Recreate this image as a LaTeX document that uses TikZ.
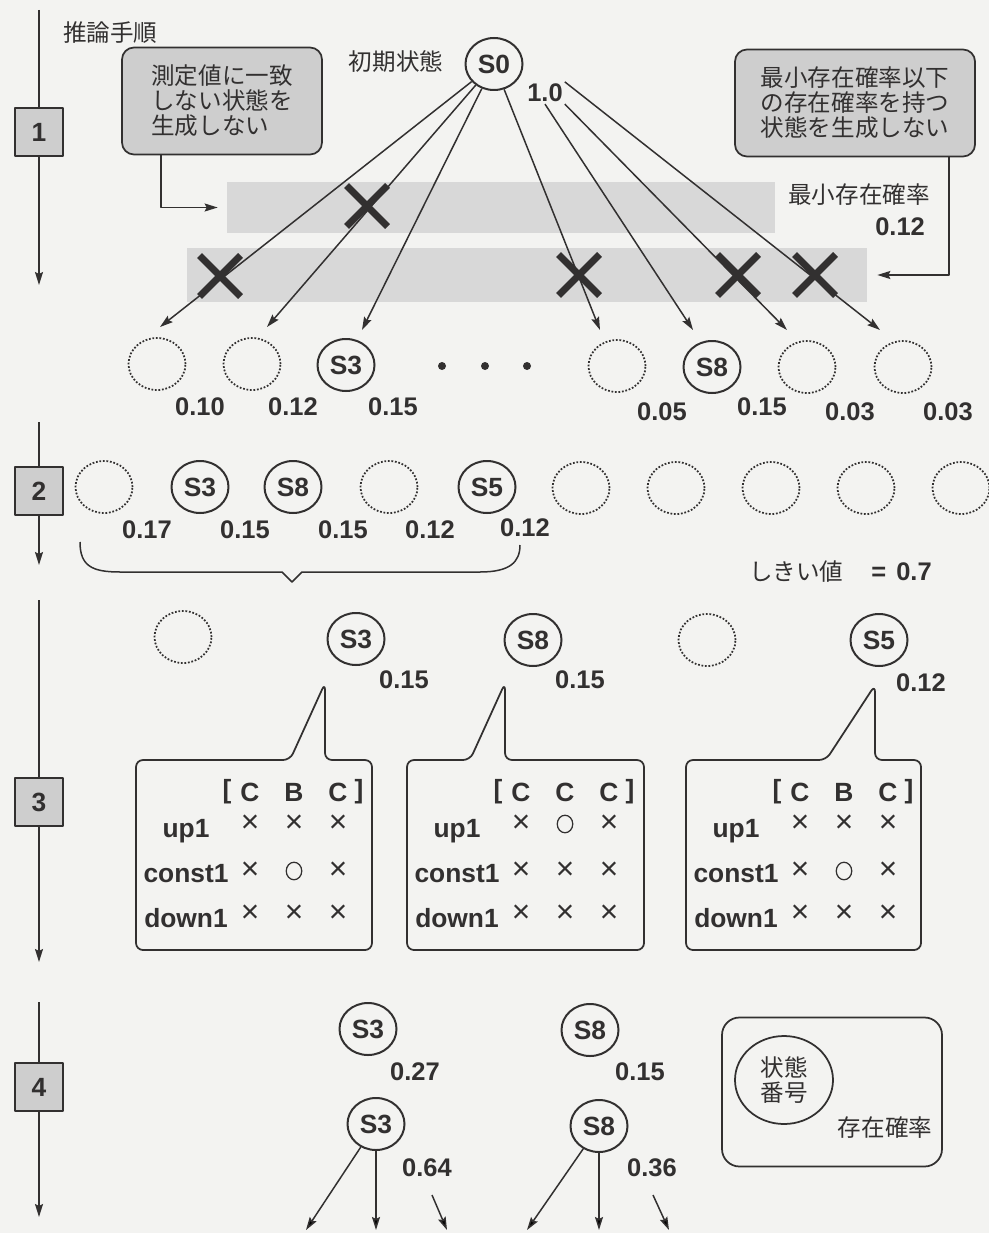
\documentclass[tikz,border=0pt]{standalone}
\usepackage{fontspec}
\setmainfont{Liberation Sans}
\newfontfamily\jp{Noto Sans CJK JP}
\usetikzlibrary{arrows.meta,shapes.geometric,shapes.misc,fit}

\definecolor{ink}{RGB}{50,48,48}
\definecolor{paper}{RGB}{243,243,241}
\definecolor{shade}{RGB}{206,206,206}
\definecolor{bandgray}{RGB}{216,216,216}

\tikzset{
  arr/.style={draw=ink, line width=0.3mm, -{Stealth[length=2.6mm,width=1.6mm,inset=0.4mm]}},
  axis/.style={draw=ink, line width=0.3mm},
  state/.style={ellipse, draw=ink, line width=0.4mm, minimum width=11.4mm, minimum height=10.4mm,
    inner sep=0pt, font=\fontsize{15}{15}\selectfont\bfseries, text=ink},
  gone/.style={ellipse, draw=ink, densely dotted, line width=0.35mm, minimum width=11.4mm,
    minimum height=10.4mm, inner sep=0pt},
  prob/.style={font=\fontsize{14.5}{15}\selectfont\bfseries, text=ink, inner sep=1pt},
  jtext/.style={font=\jp\fontsize{13.4}{14.2}\selectfont, text=ink},
  stepbox/.style={draw=ink, fill=shade, line width=0.3mm, minimum size=9.6mm, inner sep=0pt,
    font=\fontsize{15}{15}\selectfont\bfseries, text=ink},
  note/.style={jtext, draw=ink, fill=shade, rounded corners=2.4mm, line width=0.35mm, align=left},
  band/.style={fill=bandgray, inner sep=0pt},
  cut/.style={cross out, draw=ink, line width=1.4mm, minimum size=6.8mm, inner sep=0pt},
  cell/.style={font=\fontsize{15}{15}\selectfont\bfseries, text=ink, inner sep=1pt},
  tick/.style={font=\fontsize{18}{18}\selectfont, text=ink, inner sep=0pt},
  balloon/.style={draw=ink, line width=0.35mm, rounded corners=1.4mm},
}

\newcommand{\okmark}{\tikz\draw[ink, line width=0.25mm] (0,0) ellipse (1.55mm and 1.75mm);}
\newcommand{\nomark}{×}

% one table of rule matches: name, left edge, header, up1, const1, down1
\newcommand{\ruletab}[6]{%
  \node[cell] (#1-lb) at (#2+91,792) {[};
  \foreach \h [count=\i] in {#3} \node[cell] (#1-h\i) at (#2+70+44*\i,792) {\h};
  \node[cell] (#1-rb) at (#2+223,792) {]};
  \node[cell] (#1-up) at (#2+50,831) {up1};
  \node[cell] (#1-co) at (#2+50,874) {const1};
  \node[cell] (#1-dn) at (#2+50,918) {down1};
  \foreach \m [count=\i] in {#4} \node[tick] (#1-u\i) at (#2+70+44*\i,824) {\m};
  \foreach \m [count=\i] in {#5} \node[tick] (#1-c\i) at (#2+70+44*\i,871) {\m};
  \foreach \m [count=\i] in {#6} \node[tick] (#1-d\i) at (#2+70+44*\i,914) {\m};
}

\begin{document}
\begin{tikzpicture}[x=0.2mm, y=-0.2mm, line join=round]
  \fill[paper] (0,0) rectangle (989,1233);
  \useasboundingbox (0,0) rectangle (989,1233);

  % steps on the left
  \node[jtext, anchor=west] (title) at (57,33) {推論手順};
  \coordinate (ax1) at (39,10);   \coordinate (ax1e) at (39,285);
  \coordinate (ax2) at (39,422);  \coordinate (ax2e) at (39,565);
  \coordinate (ax3) at (39,600);  \coordinate (ax3e) at (39,962);
  \coordinate (ax4) at (39,1002); \coordinate (ax4e) at (39,1217);
  \node[stepbox] (n1) at (39,132) {1};
  \node[stepbox] (n2) at (39,491) {2};
  \node[stepbox] (n3) at (39,802) {3};
  \node[stepbox] (n4) at (39,1087) {4};
  \draw[axis] (ax1) -- (n1);  \draw[arr] (n1) -- (ax1e);
  \draw[axis] (ax2) -- (n2);  \draw[arr] (n2) -- (ax2e);
  \draw[axis] (ax3) -- (n3);  \draw[arr] (n3) -- (ax3e);
  \draw[axis] (ax4) -- (n4);  \draw[arr] (n4) -- (ax4e);

  % step 1
  \node[band, fit={(227,182) (775,233)}] (b1) {};
  \node[band, fit={(187,248) (867,302)}] (b2) {};
  \node[note, minimum width=40mm, minimum height=21.4mm] (nl) at (222,101) {測定値に一致\\しない状態を\\生成しない};
  \node[note, minimum width=48mm, minimum height=21.4mm] (nr) at (855,103) {最小存在確率以下\\の存在確率を持つ\\状態を生成しない};
  \draw[arr] ([xshift=8mm]nl.south west) |- ([xshift=-1.8mm]b1.west);
  \draw[arr] ([xshift=-5.4mm]nr.south east) |- ([xshift=2mm]b2.east);
  \node[jtext] (minp) at (859,195) {最小存在確率};
  \node[prob, anchor=east] (minv) at (927,227) {0.12};

  \node[jtext] (init) at (396,62) {初期状態};
  \node[state] (s0) at (494,64) {S0};
  \node[prob] (p0) at (545,93) {1.0};

  \coordinate (t1) at (160,327); \coordinate (t2) at (267,327);
  \coordinate (t3) at (362,330); \coordinate (t4) at (600,330);
  \coordinate (t5) at (693,330); \coordinate (t6) at (787,330);
  \coordinate (t7) at (880,330);
  \draw[arr] (s0) -- (t1);
  \draw[arr] (s0) -- (t2);
  \draw[arr] (s0) -- (t3);
  \draw[arr] (s0) -- (t4);
  \draw[arr] (p0.south) -- (t5);
  \draw[arr] (p0.south east) -- (t6);
  \draw[arr] (p0.north east) -- (t7);

  \node[cut] (x1) at (367,206) {};
  \node[cut] (x2) at (220,276) {};
  \node[cut] (x3) at (579,275) {};
  \node[cut] (x4) at (738,275) {};
  \node[cut] (x5) at (815,275) {};

  \node[gone]  (r1a) at (157,364) {};
  \node[gone]  (r1b) at (252,364) {};
  \node[state] (r1c) at (346,365) {S3};
  \node[gone]  (r1d) at (617,366) {};
  \node[state] (r1e) at (712,367) {S8};
  \node[gone]  (r1f) at (807,367) {};
  \node[gone]  (r1g) at (903,367) {};
  \foreach \x in {442,485,527} \fill[ink] (\x,366) circle (0.8mm);
  \node[prob] (q1a) at (200,407) {0.10};
  \node[prob] (q1b) at (293,407) {0.12};
  \node[prob] (q1c) at (393,407) {0.15};
  \node[prob] (q1d) at (662,412) {0.05};
  \node[prob] (q1e) at (762,407) {0.15};
  \node[prob] (q1f) at (850,412) {0.03};
  \node[prob] (q1g) at (948,412) {0.03};

  % step 2
  \node[gone]  (r2a) at (104,487) {};
  \node[state] (r2b) at (200,487) {S3};
  \node[state] (r2c) at (293,487) {S8};
  \node[gone]  (r2d) at (389,487) {};
  \node[state] (r2e) at (487,487) {S5};
  \node[gone]  (r2f) at (581,488) {};
  \node[gone]  (r2g) at (676,488) {};
  \node[gone]  (r2h) at (771,488) {};
  \node[gone]  (r2i) at (866,488) {};
  \node[gone]  (r2j) at (961,488) {};
  \node[prob] (q2a) at (147,530) {0.17};
  \node[prob] (q2b) at (245,530) {0.15};
  \node[prob] (q2c) at (343,530) {0.15};
  \node[prob] (q2d) at (430,530) {0.12};
  \node[prob] (q2e) at (525,528) {0.12};
  \draw[ink, line width=0.3mm] (80,542) .. controls (80,566) and (92,572) .. (120,572)
    -- (282,572) -- (292,582) -- (302,572) -- (480,572) .. controls (510,572) and (520,562) .. (520,545);
  \node[jtext, anchor=west] (thr) at (743,572) {しきい値\hspace{5.6mm}{\fontspec{Liberation Sans}\fontsize{14.5}{15}\selectfont\bfseries =\hspace{2mm}0.7}};

  % step 3
  \node[gone]  (r3a) at (183,637) {};
  \node[state] (r3b) at (356,639) {S3};
  \node[state] (r3c) at (533,640) {S8};
  \node[gone]  (r3d) at (707,640) {};
  \node[state] (r3e) at (879,640) {S5};
  \node[prob] (q3b) at (404,680) {0.15};
  \node[prob] (q3c) at (580,680) {0.15};
  \node[prob] (q3e) at (921,683) {0.12};

  \draw[balloon] (290,760) -- (325,683) -- (325,760) -- (372,760) -- (372,950) -- (136,950) -- (136,760) -- cycle;
  \draw[balloon] (470,760) -- (505,683) -- (505,760) -- (644,760) -- (644,950) -- (407,950) -- (407,760) -- cycle;
  \draw[balloon] (826,760) -- (875,685) -- (875,760) -- (921,760) -- (921,950) -- (686,950) -- (686,760) -- cycle;
  \ruletab{ta}{136}{C,B,C}{\nomark,\nomark,\nomark}{\nomark,\okmark,\nomark}{\nomark,\nomark,\nomark}
  \ruletab{tb}{407}{C,C,C}{\nomark,\okmark,\nomark}{\nomark,\nomark,\nomark}{\nomark,\nomark,\nomark}
  \ruletab{tc}{686}{C,B,C}{\nomark,\nomark,\nomark}{\nomark,\okmark,\nomark}{\nomark,\nomark,\nomark}

  % step 4
  \node[state] (f3a) at (368,1029) {S3};
  \node[state] (f8a) at (590,1030) {S8};
  \node[prob] (q4a) at (415,1072) {0.27};
  \node[prob] (q4b) at (640,1072) {0.15};
  \node[state] (f3b) at (376,1124) {S3};
  \node[state] (f8b) at (599,1126) {S8};
  \node[prob] (q4c) at (427,1168) {0.64};
  \node[prob] (q4d) at (652,1168) {0.36};
  \coordinate (d1) at (306,1230); \coordinate (d2) at (376,1230);
  \coordinate (e1) at (432,1195); \coordinate (d3) at (447,1230);
  \coordinate (d4) at (527,1230); \coordinate (d5) at (599,1230);
  \coordinate (e2) at (653,1195); \coordinate (d6) at (669,1230);
  \draw[arr] (f3b) -- (d1);
  \draw[arr] (f3b) -- (d2);
  \draw[arr] (e1) -- (d3);
  \draw[arr] (f8b) -- (d4);
  \draw[arr] (f8b) -- (d5);
  \draw[arr] (e2) -- (d6);

  % legend
  \node[draw=ink, line width=0.35mm, rounded corners=3.5mm, minimum width=44mm, minimum height=29.8mm] (key) at (832,1092) {};
  \node[ellipse, draw=ink, line width=0.35mm, minimum width=19.6mm, minimum height=17.6mm, inner sep=0pt,
    jtext, align=center] (keys) at (784,1080) {状態\\番号};
  \node[jtext] (keyp) at (885,1128) {存在確率};
\end{tikzpicture}
\end{document}
